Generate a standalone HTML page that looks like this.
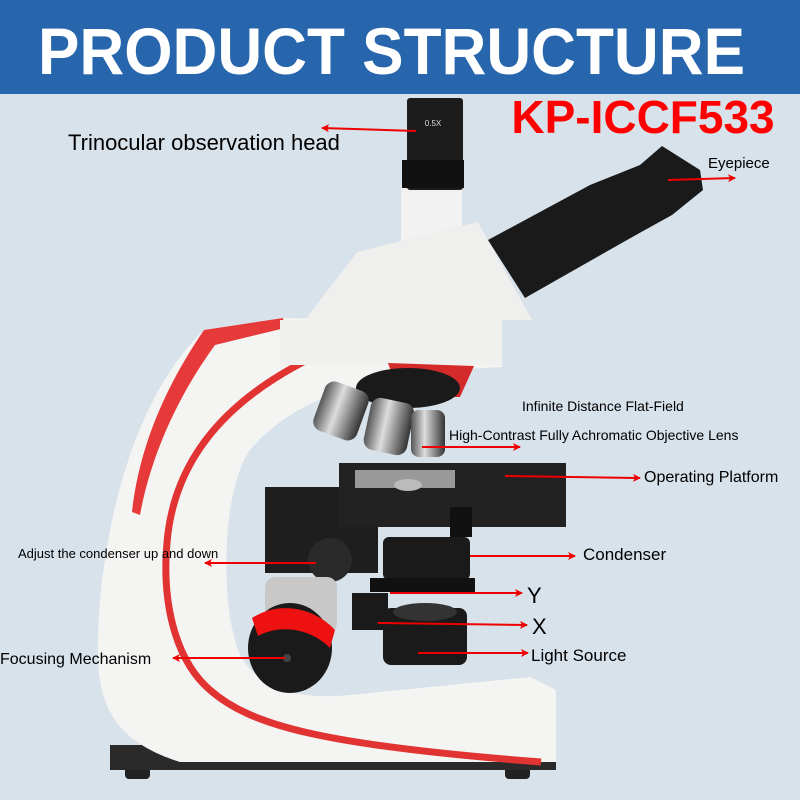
<!DOCTYPE html>
<html><head><meta charset="utf-8"><style>
html,body{margin:0;padding:0;}
body{width:800px;height:800px;overflow:hidden;background:#d8e2ea;font-family:"Liberation Sans",sans-serif;}
</style></head><body>
<svg width="800" height="800" viewBox="0 0 800 800" xmlns="http://www.w3.org/2000/svg" style="display:block">
<defs>
<marker id="ar" markerWidth="8" markerHeight="8" refX="7" refY="4" orient="auto" markerUnits="userSpaceOnUse"><path d="M0,0 L8,4 L0,8 L2,4 Z" fill="#e00"/></marker>
<linearGradient id="sil" x1="0" x2="1"><stop offset="0" stop-color="#555"/><stop offset="0.4" stop-color="#ddd"/><stop offset="0.7" stop-color="#888"/><stop offset="1" stop-color="#333"/></linearGradient>
</defs>
<rect width="800" height="800" fill="#d8e2ea"/>
<rect width="800" height="94" fill="#2766ad"/>
<text x="38" y="74" font-size="66" font-weight="bold" fill="#fff" textLength="707" lengthAdjust="spacingAndGlyphs" font-family="Liberation Sans">PRODUCT STRUCTURE</text>
<text x="643" y="133" font-size="46" font-weight="bold" fill="#f00" text-anchor="middle">KP-ICCF533</text>

<rect x="125" y="765" width="25" height="14" rx="4" fill="#222"/>
<rect x="505" y="765" width="25" height="14" rx="4" fill="#222"/>
<rect x="110" y="745" width="446" height="25" fill="#2a2a2a"/>
<path d="M204,330 L283,318 L502,322 L502,367 C390,372 300,390 250,450 C222,490 220,600 238,650 C255,690 300,700 350,695 L530,677 L556,690 L556,762 L180,762 C110,740 96,700 98,640 C100,540 130,400 204,330 Z" fill="#f4f4f2"/>
<path d="M204,330 L283,318 L285,328 L215,345 C175,400 150,460 140,515 L132,512 C140,440 170,380 204,330 Z" fill="#e63a3a"/>
<path d="M352,340 C250,380 180,440 168,533 C160,600 175,660 210,690 C250,725 320,745 541,762" fill="none" stroke="#e23333" stroke-width="7"/>
<rect x="401" y="185" width="61" height="60" fill="#f2f2f2"/>
<rect x="407" y="98" width="56" height="92" rx="3" fill="#1c1c1c"/>
<rect x="402" y="160" width="62" height="28" fill="#111"/>
<text x="433" y="126" font-size="8" fill="#ddd" text-anchor="middle">0.5X</text>
<polygon points="357,252 478,222 532,320 305,320" fill="#efefed"/>
<polygon points="488,240 590,185 640,165 662,146 700,170 703,190 672,215 627,240 525,298" fill="#1a1a1a"/>
<rect x="280" y="320" width="222" height="45" fill="#f0f0ee"/>
<path d="M388,363 L474,366 L460,397 L400,397 Z" fill="#d42a2a"/>
<ellipse cx="408" cy="388" rx="52" ry="20" fill="#1a1a1a"/>
<rect x="318" y="385" width="46" height="52" rx="10" fill="url(#sil)" transform="rotate(20 341 411)"/>
<rect x="367" y="400" width="44" height="53" rx="10" fill="url(#sil)" transform="rotate(12 389 426)"/>
<rect x="411" y="410" width="34" height="47" rx="8" fill="url(#sil)"/>
<rect x="265" y="487" width="113" height="86" fill="#1e1e1e"/>
<rect x="339" y="463" width="227" height="64" fill="#222"/>
<rect x="355" y="470" width="100" height="18" fill="#999"/>
<ellipse cx="408" cy="485" rx="14" ry="6" fill="#bbb"/>
<rect x="450" y="507" width="22" height="30" fill="#111"/>
<ellipse cx="330" cy="560" rx="22" ry="22" fill="#2a2a2a"/>
<rect x="383" y="537" width="87" height="43" rx="6" fill="#1a1a1a"/>
<rect x="370" y="578" width="105" height="14" fill="#111"/>
<rect x="352" y="593" width="36" height="37" fill="#1a1a1a"/>
<rect x="265" y="577" width="72" height="56" rx="10" fill="#c8c8c8"/>
<ellipse cx="290" cy="648" rx="42" ry="45" fill="#1a1a1a"/>
<path d="M252,618 C280,600 315,608 335,630 L330,648 C310,628 280,624 258,636 Z" fill="#ee1111"/>
<circle cx="287" cy="658" r="4" fill="#444"/>
<rect x="383" y="608" width="84" height="57" rx="8" fill="#1a1a1a"/>
<ellipse cx="425" cy="612" rx="32" ry="9" fill="#333"/>

<g stroke="#e00" stroke-width="2" fill="none" marker-end="url(#ar)">
<line x1="416" y1="131" x2="322" y2="128"/>
<line x1="668" y1="180" x2="735" y2="178"/>
<line x1="422" y1="447" x2="520" y2="447"/>
<line x1="505" y1="476" x2="640" y2="478"/>
<line x1="316" y1="563" x2="205" y2="563"/>
<line x1="470" y1="556" x2="575" y2="556"/>
<line x1="390" y1="593" x2="522" y2="593"/>
<line x1="378" y1="623" x2="527" y2="625"/>
<line x1="418" y1="653" x2="528" y2="653"/>
<line x1="285" y1="658" x2="173" y2="658"/>
</g>
<g fill="#000">
<text x="68" y="150" font-size="22">Trinocular observation head</text>
<text x="708" y="168" font-size="15">Eyepiece</text>
<text x="522" y="411" font-size="14">Infinite Distance Flat-Field</text>
<text x="449" y="440" font-size="14">High-Contrast Fully Achromatic Objective Lens</text>
<text x="644" y="482" font-size="16">Operating Platform</text>
<text x="18" y="558" font-size="13">Adjust the condenser up and down</text>
<text x="583" y="560" font-size="17">Condenser</text>
<text x="527" y="603" font-size="22">Y</text>
<text x="532" y="634" font-size="22">X</text>
<text x="531" y="661" font-size="17">Light Source</text>
<text x="0" y="664" font-size="16">Focusing Mechanism</text>
</g>
</svg>
</body></html>
